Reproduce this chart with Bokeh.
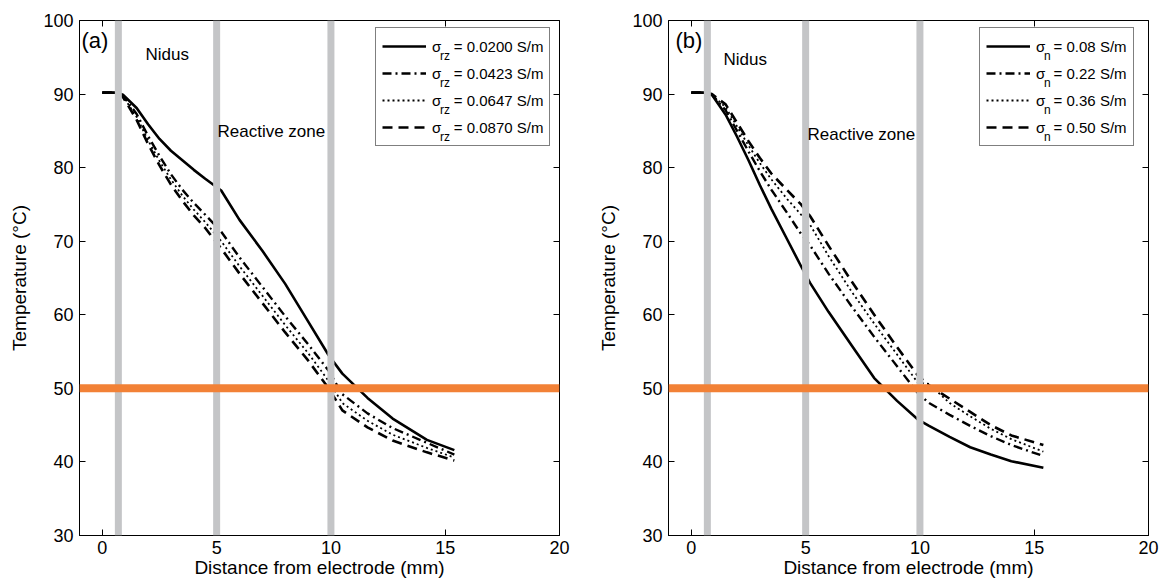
from bokeh.plotting import figure
from bokeh.models import (Range1d, FixedTicker, LinearAxis, Span, Label,
                          Legend, LegendItem)
from bokeh.layouts import row
from bokeh.embed import file_html
from bokeh.resources import INLINE

# ---------------- data ----------------
x_ticks = [0, 5, 10, 15, 20]
y_ticks = [30, 40, 50, 60, 70, 80, 90, 100]
zone_boundaries = [0.7, 5.0, 10.0]
threshold_temp = 50

# panel (a): sigma_rz
dist_a = [0.0, 0.6, 0.9, 1.5, 2.0, 2.5, 3.0, 3.5, 4.0, 4.5, 5.2, 6.0, 7.0,
          8.0, 9.0, 9.9, 10.5, 11.6, 12.7, 14.2, 15.4]
temp_a_0200 = [90.2, 90.2, 89.9, 88.1, 85.9, 83.9, 82.3, 81.0, 79.7, 78.5,
               76.9, 72.9, 68.7, 64.2, 59.1, 54.5, 52.0, 48.7, 45.9, 43.0, 41.6]
temp_a_0423 = [90.2, 90.2, 89.8, 87.3, 84.3, 81.6, 79.1, 77.0, 75.2, 73.6,
               71.3, 67.8, 63.8, 59.8, 56.0, 52.4, 49.2, 46.6, 44.6, 42.6, 41.0]
temp_a_0647 = [90.2, 90.2, 89.7, 86.9, 83.7, 80.9, 78.4, 76.2, 74.3, 72.6,
               70.0, 66.6, 62.6, 58.6, 54.8, 51.0, 48.0, 45.6, 43.7, 41.9, 40.6]
temp_a_0870 = [90.2, 90.2, 89.6, 86.5, 83.2, 80.3, 77.7, 75.5, 73.5, 71.8,
               69.0, 65.6, 61.6, 57.6, 53.8, 50.0, 47.0, 44.7, 42.9, 41.3, 40.2]
labels_a = ["0.0200", "0.0423", "0.0647", "0.0870"]

# panel (b): sigma_n
dist_b = [0.0, 0.6, 0.9, 1.5, 2.0, 2.5, 3.0, 3.5, 4.2, 4.8, 5.2, 6.0, 7.0,
          8.0, 9.0, 9.9, 10.4, 11.3, 12.2, 13.1, 14.0, 15.4]
temp_b_008 = [90.2, 90.2, 89.9, 87.2, 84.2, 81.0, 77.6, 74.4, 70.2, 66.6,
              64.3, 60.4, 55.9, 51.4, 48.3, 45.8, 44.9, 43.4, 42.0, 41.0,
              40.1, 39.2]
temp_b_022 = [90.2, 90.2, 89.9, 87.8, 85.0, 82.2, 79.5, 77.0, 73.8, 71.0,
              69.4, 65.6, 61.2, 57.0, 53.0, 49.4, 48.0, 46.4, 44.9, 43.5,
              42.3, 40.8]
temp_b_036 = [90.2, 90.2, 89.9, 88.2, 85.6, 83.0, 80.6, 78.4, 75.7, 73.6,
              72.2, 68.0, 63.2, 58.8, 54.6, 50.8, 50.6, 48.0, 46.2, 44.5,
              43.1, 41.4]
temp_b_050 = [90.2, 90.2, 90.0, 88.6, 86.1, 83.6, 81.3, 79.2, 76.9, 75.0,
              73.4, 69.4, 64.6, 60.0, 55.6, 51.8, 50.4, 48.6, 46.8, 45.0,
              43.6, 42.3]
labels_b = ["0.08", "0.22", "0.36", "0.50"]

# ---------------- style ----------------
FONT = "Liberation Sans"
X_RANGE = (-1, 20)
Y_RANGE = (30, 100)
FRAME_W, FRAME_H = 480, 515
TOP = 20
GREY = "#C4C5C7"
ORANGE = "#F28136"
styles = [dict(line_dash="solid", line_width=2.6),
          dict(line_dash="9 4 2 4", line_width=2.4),
          dict(line_dash="2 3", line_width=1.8),
          dict(line_dash="10 6", line_width=2.6)]
NBSP = "\u00a0"


def make_panel(offset, width, left, right, dist, series, labels, sub, sub_pad,
               tag, nidus_pos, reactive_pos, legend_left):
    p = figure(width=width, height=586, output_backend="svg",
               toolbar_location=None, x_range=Range1d(*X_RANGE),
               y_range=Range1d(*Y_RANGE), min_border_left=left,
               min_border_right=right, min_border_top=TOP,
               min_border_bottom=586 - TOP - FRAME_H)
    p.xgrid.visible = False
    p.ygrid.visible = False
    p.outline_line_color = "black"
    p.outline_line_width = 1
    p.background_fill_color = "white"
    p.border_fill_color = "white"

    for ax, ticks in ((p.xaxis[0], x_ticks), (p.yaxis[0], y_ticks)):
        ax.ticker = FixedTicker(ticks=ticks)
        ax.major_tick_in = 6
        ax.major_tick_out = 0
        ax.minor_tick_line_color = None
        ax.axis_line_color = "black"
        ax.major_label_text_font = FONT
        ax.major_label_text_font_size = "18px"
        ax.major_label_text_color = "black"
        ax.axis_label_text_font = FONT
        ax.axis_label_text_font_size = "19px"
        ax.axis_label_text_font_style = "normal"
        ax.axis_label_text_color = "black"
    p.xaxis[0].axis_label = "Distance from electrode (mm)"
    p.xaxis[0].major_label_standoff = 5
    p.xaxis[0].axis_label_standoff = 0
    p.yaxis[0].axis_label = "Temperature (\u00b0C)"
    p.yaxis[0].major_label_standoff = 6
    p.yaxis[0].axis_label_standoff = 10

    # mirrored ticks
    top_ax = LinearAxis(ticker=FixedTicker(ticks=x_ticks), major_tick_in=6,
                        major_tick_out=0, minor_tick_line_color=None,
                        axis_line_color=None,
                        major_label_overrides={t: "" for t in x_ticks},
                        major_label_standoff=0)
    right_ax = LinearAxis(ticker=FixedTicker(ticks=y_ticks), major_tick_in=6,
                          major_tick_out=0, minor_tick_line_color=None,
                          axis_line_color=None,
                          major_label_overrides={t: "" for t in y_ticks},
                          major_label_standoff=0)
    p.add_layout(top_ax, "above")
    p.add_layout(right_ax, "right")

    items = []
    for ys, st, lab in zip(series, styles, labels):
        r = p.line(dist, ys, line_color="black", line_cap="butt",
                   line_join="round", **st)
        items.append(LegendItem(label=f"\u03c3{NBSP * sub_pad}= {lab} S/m",
                                renderers=[r]))

    for xb in zone_boundaries:
        p.add_layout(Span(location=xb, dimension="height", line_color=GREY,
                          line_width=7))
    p.add_layout(Span(location=threshold_temp, dimension="width",
                      line_color=ORANGE, line_width=8))

    def dx(px):
        return X_RANGE[0] + (px - offset - left) / FRAME_W * (X_RANGE[1] - X_RANGE[0])

    def dy(py):
        return Y_RANGE[0] + (TOP + FRAME_H - py) / FRAME_H * (Y_RANGE[1] - Y_RANGE[0])

    txt = dict(text_font=FONT, text_color="black", text_baseline="top",
               text_align="left")
    p.add_layout(Label(x=dx(tag[1]), y=dy(tag[2]), text=tag[0],
                       text_font_size="22px", **txt))
    p.add_layout(Label(x=dx(nidus_pos[0]), y=dy(nidus_pos[1]), text="Nidus",
                       text_font_size="17px", **txt))
    p.add_layout(Label(x=dx(reactive_pos[0]), y=dy(reactive_pos[1]),
                       text="Reactive zone", text_font_size="17px", **txt))

    # legend
    pad, gw, gh, lh, sp = 6, 44, 24, 24, 3
    n = len(items)
    leg_h = 2 * pad + n * lh + (n - 1) * sp
    leg_top = 29
    legend = Legend(items=items, location=(legend_left - offset - left,
                                           TOP + FRAME_H - leg_top - leg_h),
                    padding=pad, spacing=sp, glyph_width=gw, glyph_height=gh,
                    label_height=lh, label_standoff=6, margin=0,
                    label_text_font=FONT, label_text_font_size="15px",
                    label_text_color="black", border_line_color="black",
                    border_line_width=1, background_fill_color=None)
    p.add_layout(legend)
    # subscripts following sigma
    text_left = legend_left + pad + gw + 6
    for i in range(n):
        cy = leg_top + pad + i * (lh + sp) + lh / 2
        p.add_layout(Label(x=dx(text_left + 8.6), y=dy(cy + 1), text=sub,
                           text_font_size="12px", level="overlay", **txt))
    return p


p1 = make_panel(0, 590, 79, 31, dist_a,
                [temp_a_0200, temp_a_0423, temp_a_0647, temp_a_0870],
                labels_a, "rz", 3, ("(a)", 81, 27), (145, 44), (217, 121), 375)
p2 = make_panel(590, 575, 668 - 590, 17, dist_b,
                [temp_b_008, temp_b_022, temp_b_036, temp_b_050],
                labels_b, "n", 2, ("(b)", 675, 27), (723, 49), (807, 124), 979)

layout = row(p1, p2)
open("out.html", "w").write(file_html(layout, INLINE))
